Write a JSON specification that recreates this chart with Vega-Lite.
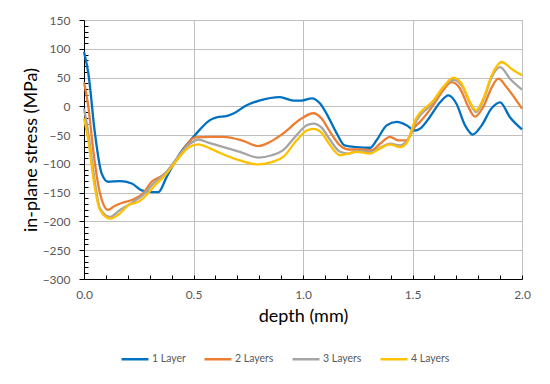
{
  "$schema": "https://vega.github.io/schema/vega-lite/v6.json",
  "width": 438,
  "height": 259,
  "autosize": {"type": "none"},
  "padding": {"left": 84, "top": 20, "right": 28, "bottom": 105},
  "background": "white",
  "config": {
    "font": "Lato",
    "view": {"stroke": "#BFBFBF", "strokeWidth": 1}
  },
  "data": {
    "values": [
      {"depth": 0, "stress": 95, "series": "1 Layer"},
      {"depth": 0.02, "stress": 57, "series": "1 Layer"},
      {"depth": 0.05, "stress": -47, "series": "1 Layer"},
      {"depth": 0.08, "stress": -116, "series": "1 Layer"},
      {"depth": 0.11, "stress": -131, "series": "1 Layer"},
      {"depth": 0.164, "stress": -130, "series": "1 Layer"},
      {"depth": 0.218, "stress": -134, "series": "1 Layer"},
      {"depth": 0.263, "stress": -146, "series": "1 Layer"},
      {"depth": 0.309, "stress": -149, "series": "1 Layer"},
      {"depth": 0.34, "stress": -149, "series": "1 Layer"},
      {"depth": 0.377, "stress": -123, "series": "1 Layer"},
      {"depth": 0.438, "stress": -82, "series": "1 Layer"},
      {"depth": 0.5, "stress": -53, "series": "1 Layer"},
      {"depth": 0.53, "stress": -40, "series": "1 Layer"},
      {"depth": 0.575, "stress": -24, "series": "1 Layer"},
      {"depth": 0.606, "stress": -19, "series": "1 Layer"},
      {"depth": 0.65, "stress": -17, "series": "1 Layer"},
      {"depth": 0.68, "stress": -13, "series": "1 Layer"},
      {"depth": 0.743, "stress": 2, "series": "1 Layer"},
      {"depth": 0.8, "stress": 10, "series": "1 Layer"},
      {"depth": 0.895, "stress": 16, "series": "1 Layer"},
      {"depth": 0.956, "stress": 10, "series": "1 Layer"},
      {"depth": 0.994, "stress": 10, "series": "1 Layer"},
      {"depth": 1.04, "stress": 14, "series": "1 Layer"},
      {"depth": 1.078, "stress": 5, "series": "1 Layer"},
      {"depth": 1.108, "stress": -13, "series": "1 Layer"},
      {"depth": 1.154, "stress": -47, "series": "1 Layer"},
      {"depth": 1.19, "stress": -68, "series": "1 Layer"},
      {"depth": 1.245, "stress": -71, "series": "1 Layer"},
      {"depth": 1.306, "stress": -72, "series": "1 Layer"},
      {"depth": 1.336, "stress": -59, "series": "1 Layer"},
      {"depth": 1.382, "stress": -33, "series": "1 Layer"},
      {"depth": 1.428, "stress": -27, "series": "1 Layer"},
      {"depth": 1.473, "stress": -33, "series": "1 Layer"},
      {"depth": 1.51, "stress": -42, "series": "1 Layer"},
      {"depth": 1.534, "stress": -39, "series": "1 Layer"},
      {"depth": 1.58, "stress": -18, "series": "1 Layer"},
      {"depth": 1.626, "stress": 7, "series": "1 Layer"},
      {"depth": 1.664, "stress": 19, "series": "1 Layer"},
      {"depth": 1.7, "stress": 5, "series": "1 Layer"},
      {"depth": 1.74, "stress": -33, "series": "1 Layer"},
      {"depth": 1.775, "stress": -49, "series": "1 Layer"},
      {"depth": 1.816, "stress": -33, "series": "1 Layer"},
      {"depth": 1.86, "stress": -4, "series": "1 Layer"},
      {"depth": 1.9, "stress": 7, "series": "1 Layer"},
      {"depth": 1.945, "stress": -19, "series": "1 Layer"},
      {"depth": 2.0, "stress": -40, "series": "1 Layer"},

      {"depth": 0, "stress": 42, "series": "2 Layers"},
      {"depth": 0.02, "stress": -1, "series": "2 Layers"},
      {"depth": 0.042, "stress": -76, "series": "2 Layers"},
      {"depth": 0.073, "stress": -151, "series": "2 Layers"},
      {"depth": 0.11, "stress": -180, "series": "2 Layers"},
      {"depth": 0.14, "stress": -173, "series": "2 Layers"},
      {"depth": 0.172, "stress": -168, "series": "2 Layers"},
      {"depth": 0.225, "stress": -162, "series": "2 Layers"},
      {"depth": 0.27, "stress": -151, "series": "2 Layers"},
      {"depth": 0.309, "stress": -131, "series": "2 Layers"},
      {"depth": 0.355, "stress": -121, "series": "2 Layers"},
      {"depth": 0.393, "stress": -108, "series": "2 Layers"},
      {"depth": 0.453, "stress": -76, "series": "2 Layers"},
      {"depth": 0.507, "stress": -54, "series": "2 Layers"},
      {"depth": 0.575, "stress": -53, "series": "2 Layers"},
      {"depth": 0.636, "stress": -53, "series": "2 Layers"},
      {"depth": 0.727, "stress": -60, "series": "2 Layers"},
      {"depth": 0.796, "stress": -69, "series": "2 Layers"},
      {"depth": 0.849, "stress": -62, "series": "2 Layers"},
      {"depth": 0.91, "stress": -47, "series": "2 Layers"},
      {"depth": 0.986, "stress": -23, "series": "2 Layers"},
      {"depth": 1.047, "stress": -12, "series": "2 Layers"},
      {"depth": 1.085, "stress": -21, "series": "2 Layers"},
      {"depth": 1.123, "stress": -44, "series": "2 Layers"},
      {"depth": 1.169, "stress": -68, "series": "2 Layers"},
      {"depth": 1.207, "stress": -75, "series": "2 Layers"},
      {"depth": 1.26, "stress": -75, "series": "2 Layers"},
      {"depth": 1.314, "stress": -76, "series": "2 Layers"},
      {"depth": 1.352, "stress": -65, "series": "2 Layers"},
      {"depth": 1.397, "stress": -53, "series": "2 Layers"},
      {"depth": 1.435, "stress": -59, "series": "2 Layers"},
      {"depth": 1.473, "stress": -59, "series": "2 Layers"},
      {"depth": 1.51, "stress": -36, "series": "2 Layers"},
      {"depth": 1.534, "stress": -27, "series": "2 Layers"},
      {"depth": 1.595, "stress": 2, "series": "2 Layers"},
      {"depth": 1.64, "stress": 28, "series": "2 Layers"},
      {"depth": 1.679, "stress": 42, "series": "2 Layers"},
      {"depth": 1.717, "stress": 31, "series": "2 Layers"},
      {"depth": 1.755, "stress": -1, "series": "2 Layers"},
      {"depth": 1.785, "stress": -18, "series": "2 Layers"},
      {"depth": 1.823, "stress": -1, "series": "2 Layers"},
      {"depth": 1.862, "stress": 33, "series": "2 Layers"},
      {"depth": 1.892, "stress": 48, "series": "2 Layers"},
      {"depth": 1.93, "stress": 33, "series": "2 Layers"},
      {"depth": 2.0, "stress": -4, "series": "2 Layers"},

      {"depth": 0, "stress": -4, "series": "3 Layers"},
      {"depth": 0.02, "stress": -47, "series": "3 Layers"},
      {"depth": 0.042, "stress": -111, "series": "3 Layers"},
      {"depth": 0.073, "stress": -177, "series": "3 Layers"},
      {"depth": 0.119, "stress": -192, "series": "3 Layers"},
      {"depth": 0.164, "stress": -180, "series": "3 Layers"},
      {"depth": 0.225, "stress": -166, "series": "3 Layers"},
      {"depth": 0.27, "stress": -154, "series": "3 Layers"},
      {"depth": 0.317, "stress": -134, "series": "3 Layers"},
      {"depth": 0.362, "stress": -120, "series": "3 Layers"},
      {"depth": 0.423, "stress": -91, "series": "3 Layers"},
      {"depth": 0.484, "stress": -65, "series": "3 Layers"},
      {"depth": 0.522, "stress": -58, "series": "3 Layers"},
      {"depth": 0.575, "stress": -64, "series": "3 Layers"},
      {"depth": 0.621, "stress": -69, "series": "3 Layers"},
      {"depth": 0.712, "stress": -79, "series": "3 Layers"},
      {"depth": 0.796, "stress": -89, "series": "3 Layers"},
      {"depth": 0.857, "stress": -85, "series": "3 Layers"},
      {"depth": 0.91, "stress": -76, "series": "3 Layers"},
      {"depth": 0.971, "stress": -50, "series": "3 Layers"},
      {"depth": 1.017, "stress": -33, "series": "3 Layers"},
      {"depth": 1.047, "stress": -30, "series": "3 Layers"},
      {"depth": 1.085, "stress": -37, "series": "3 Layers"},
      {"depth": 1.123, "stress": -58, "series": "3 Layers"},
      {"depth": 1.169, "stress": -79, "series": "3 Layers"},
      {"depth": 1.207, "stress": -82, "series": "3 Layers"},
      {"depth": 1.245, "stress": -78, "series": "3 Layers"},
      {"depth": 1.306, "stress": -79, "series": "3 Layers"},
      {"depth": 1.352, "stress": -72, "series": "3 Layers"},
      {"depth": 1.397, "stress": -65, "series": "3 Layers"},
      {"depth": 1.443, "stress": -68, "series": "3 Layers"},
      {"depth": 1.476, "stress": -59, "series": "3 Layers"},
      {"depth": 1.519, "stress": -24, "series": "3 Layers"},
      {"depth": 1.595, "stress": 7, "series": "3 Layers"},
      {"depth": 1.64, "stress": 33, "series": "3 Layers"},
      {"depth": 1.686, "stress": 46, "series": "3 Layers"},
      {"depth": 1.725, "stress": 36, "series": "3 Layers"},
      {"depth": 1.763, "stress": 5, "series": "3 Layers"},
      {"depth": 1.79, "stress": -10, "series": "3 Layers"},
      {"depth": 1.823, "stress": 10, "series": "3 Layers"},
      {"depth": 1.862, "stress": 51, "series": "3 Layers"},
      {"depth": 1.9, "stress": 68, "series": "3 Layers"},
      {"depth": 1.945, "stress": 48, "series": "3 Layers"},
      {"depth": 2.0, "stress": 29, "series": "3 Layers"},

      {"depth": 0, "stress": -21, "series": "4 Layers"},
      {"depth": 0.02, "stress": -59, "series": "4 Layers"},
      {"depth": 0.042, "stress": -123, "series": "4 Layers"},
      {"depth": 0.073, "stress": -180, "series": "4 Layers"},
      {"depth": 0.119, "stress": -195, "series": "4 Layers"},
      {"depth": 0.164, "stress": -186, "series": "4 Layers"},
      {"depth": 0.202, "stress": -172, "series": "4 Layers"},
      {"depth": 0.248, "stress": -166, "series": "4 Layers"},
      {"depth": 0.286, "stress": -154, "series": "4 Layers"},
      {"depth": 0.324, "stress": -137, "series": "4 Layers"},
      {"depth": 0.37, "stress": -120, "series": "4 Layers"},
      {"depth": 0.423, "stress": -94, "series": "4 Layers"},
      {"depth": 0.476, "stress": -72, "series": "4 Layers"},
      {"depth": 0.522, "stress": -66, "series": "4 Layers"},
      {"depth": 0.575, "stress": -73, "series": "4 Layers"},
      {"depth": 0.621, "stress": -81, "series": "4 Layers"},
      {"depth": 0.712, "stress": -94, "series": "4 Layers"},
      {"depth": 0.796, "stress": -101, "series": "4 Layers"},
      {"depth": 0.857, "stress": -97, "series": "4 Layers"},
      {"depth": 0.91, "stress": -88, "series": "4 Layers"},
      {"depth": 0.971, "stress": -59, "series": "4 Layers"},
      {"depth": 1.017, "stress": -42, "series": "4 Layers"},
      {"depth": 1.047, "stress": -39, "series": "4 Layers"},
      {"depth": 1.085, "stress": -46, "series": "4 Layers"},
      {"depth": 1.123, "stress": -67, "series": "4 Layers"},
      {"depth": 1.169, "stress": -85, "series": "4 Layers"},
      {"depth": 1.207, "stress": -82, "series": "4 Layers"},
      {"depth": 1.245, "stress": -79, "series": "4 Layers"},
      {"depth": 1.306, "stress": -82, "series": "4 Layers"},
      {"depth": 1.352, "stress": -73, "series": "4 Layers"},
      {"depth": 1.397, "stress": -66, "series": "4 Layers"},
      {"depth": 1.443, "stress": -71, "series": "4 Layers"},
      {"depth": 1.476, "stress": -62, "series": "4 Layers"},
      {"depth": 1.51, "stress": -26, "series": "4 Layers"},
      {"depth": 1.595, "stress": 10, "series": "4 Layers"},
      {"depth": 1.64, "stress": 33, "series": "4 Layers"},
      {"depth": 1.686, "stress": 50, "series": "4 Layers"},
      {"depth": 1.725, "stress": 39, "series": "4 Layers"},
      {"depth": 1.763, "stress": 7, "series": "4 Layers"},
      {"depth": 1.79, "stress": -7, "series": "4 Layers"},
      {"depth": 1.823, "stress": 13, "series": "4 Layers"},
      {"depth": 1.862, "stress": 54, "series": "4 Layers"},
      {"depth": 1.907, "stress": 77, "series": "4 Layers"},
      {"depth": 1.953, "stress": 65, "series": "4 Layers"},
      {"depth": 2.0, "stress": 54, "series": "4 Layers"}
    ]
  },
  "mark": {"type": "line", "interpolate": "monotone", "strokeWidth": 2.3},
  "encoding": {
    "x": {
      "field": "depth",
      "type": "quantitative",
      "scale": {"domain": [0, 2], "nice": false, "zero": false},
      "axis": {
        "title": "depth (mm)",
        "titleFontSize": 18,
        "titleFontWeight": "normal",
        "titleColor": "#000000",
        "titlePadding": 7,
        "values": [0, 0.1, 0.2, 0.3, 0.4, 0.5, 0.6, 0.7, 0.8, 0.9, 1.0, 1.1, 1.2, 1.3, 1.4, 1.5, 1.6, 1.7, 1.8, 1.9, 2.0],
        "format": ".1f",
        "labelExpr": "abs(datum.value * 2 - round(datum.value * 2)) < 0.001 ? datum.label : ''",
        "labelFontSize": 12,
        "labelColor": "#595959",
        "labelPadding": 14,
        "labelFlush": false,
        "labelOverlap": false,
        "domainColor": "#000000",
        "domainWidth": 1,
        "tickColor": "#000000",
        "tickSize": -4,
        "grid": true,
        "gridColor": {"condition": {"test": "abs(datum.value * 2 - round(datum.value * 2)) < 0.001", "value": "#BFBFBF"}, "value": "transparent"}
      }
    },
    "y": {
      "field": "stress",
      "type": "quantitative",
      "scale": {"domain": [-300, 150], "nice": false, "zero": false},
      "axis": {
        "title": "in-plane stress (MPa)",
        "titleFontSize": 18,
        "titleFontWeight": "normal",
        "titleColor": "#000000",
        "titlePadding": 2,
        "values": [-300, -290, -280, -270, -260, -250, -240, -230, -220, -210, -200, -190, -180, -170, -160, -150, -140, -130, -120, -110, -100, -90, -80, -70, -60, -50, -40, -30, -20, -10, 0, 10, 20, 30, 40, 50, 60, 70, 80, 90, 100, 110, 120, 130, 140, 150],
        "labelExpr": "datum.value % 50 === 0 ? datum.label : ''",
        "labelFontSize": 12,
        "labelColor": "#595959",
        "labelPadding": 9,
        "labelOverlap": false,
        "labelFlush": false,
        "domainColor": "#000000",
        "tickColor": "#000000",
        "tickSize": {"condition": {"test": "datum.value % 50 === 0", "value": 5}, "value": -4},
        "grid": true,
        "gridColor": {"condition": {"test": "datum.value % 50 === 0", "value": "#BFBFBF"}, "value": "transparent"}
      }
    },
    "color": {
      "field": "series",
      "type": "nominal",
      "scale": {"domain": ["1 Layer", "2 Layers", "3 Layers", "4 Layers"], "range": ["#0070C0", "#ED7D31", "#A5A5A5", "#FFC000"]},
      "legend": {
        "title": null,
        "orient": "none",
        "legendX": 36,
        "legendY": 324,
        "direction": "horizontal",
        "symbolType": "stroke",
        "symbolSize": 729,
        "symbolStrokeWidth": 2.5,
        "labelFontSize": 10.5,
        "labelColor": "#595959",
        "labelOffset": 2,
        "columnPadding": 13
      }
    }
  }
}
